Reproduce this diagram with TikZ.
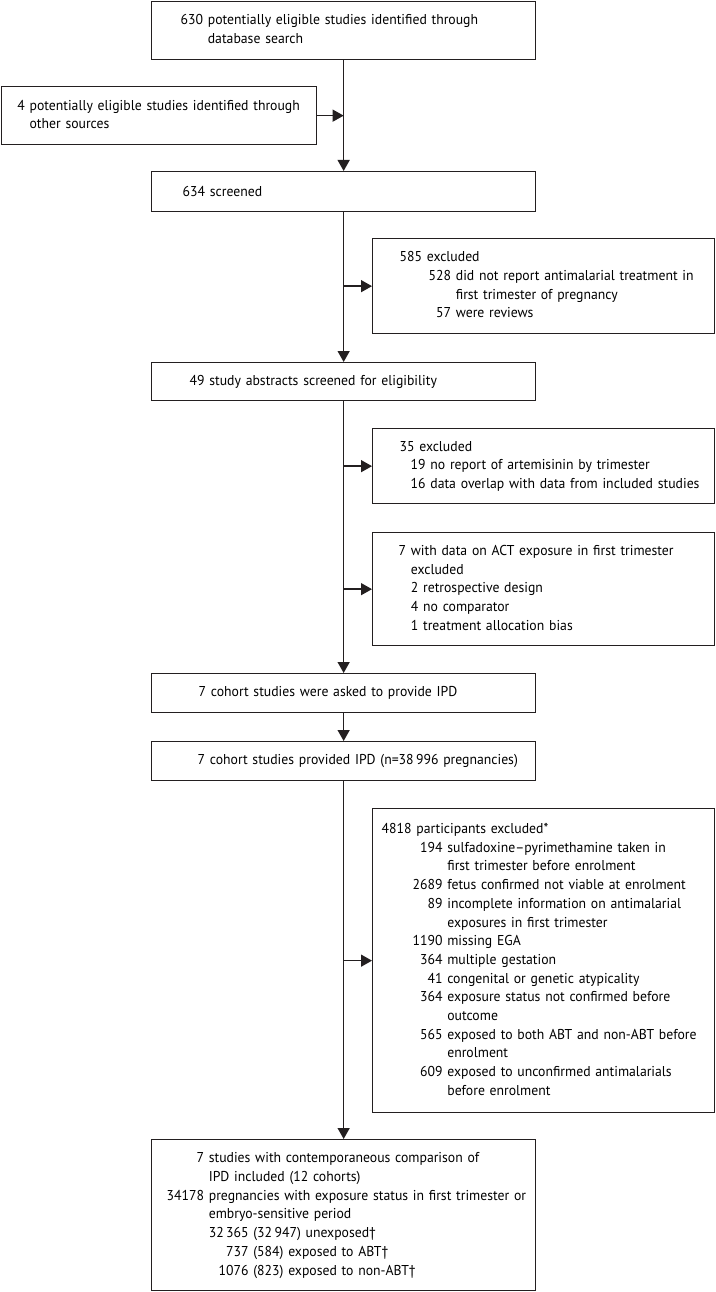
\documentclass[tikz,border=0pt]{standalone}
\usepackage{fontspec}
\setmainfont{PT Sans}[FakeStretch=0.96]
\usetikzlibrary{arrows.meta}

\definecolor{FlowInk}{RGB}{35,31,32}

\begin{document}
\begin{tikzpicture}[x=1pt,y=-1pt,
    flowbox/.style={draw=FlowInk,line width=1.3pt,anchor=north west,align=left,
      inner ysep=0pt,font=\fontsize{14.3}{18.7}\selectfont},
    arr/.style={FlowInk,line width=1.4pt,-{Triangle[length=11pt,width=12pt]}}]

  \useasboundingbox (0,0) rectangle (715,1292);

  % main column
  \node[flowbox,minimum width=384pt,minimum height=58pt,inner xsep=29pt,text width=326pt] (n630) at (151,0.7) {%
    \begin{tabular}{@{}r@{\ }l@{}}
      630 & potentially eligible studies identified through\\
          & database search
    \end{tabular}};
  \node[flowbox,minimum width=315pt,minimum height=58pt,inner xsep=16pt,text width=283pt] (nother) at (0.7,86) {%
    \begin{tabular}{@{}r@{\ }l@{}}
      4 & potentially eligible studies identified through\\
        & other sources
    \end{tabular}};
  \node[flowbox,minimum width=384pt,minimum height=40pt,inner xsep=31pt,text width=322pt] (nscr) at (151,171) {634 screened};
  \node[flowbox,minimum width=384pt,minimum height=38pt,inner xsep=38pt,text width=308pt] (nabs) at (151,362) {49 study abstracts screened for eligibility};
  \node[flowbox,minimum width=384pt,minimum height=39pt,inner xsep=47pt,text width=290pt] (nask) at (151,673) {7 cohort studies were asked to provide IPD};
  \node[flowbox,minimum width=384pt,minimum height=39pt,inner xsep=46pt,text width=292pt] (nipd) at (151,741) {\mbox{7 cohort studies provided IPD (n=38\,996 pregnancies)}};
  \node[flowbox,minimum width=384pt,minimum height=151pt,inner xsep=15pt,text width=354pt] (nfinal) at (151,1139) {%
    \begin{tabular}{@{}r@{\ }r@{\ }l@{}}
      7     & \multicolumn{2}{@{}l@{}}{studies with contemporaneous comparison of}\\
            & \multicolumn{2}{@{}l@{}}{IPD included (12 cohorts)}\\
      34178 & \multicolumn{2}{@{}l@{}}{pregnancies with exposure status in first trimester or}\\
            & \multicolumn{2}{@{}l@{}}{embryo-sensitive period}\\
            & 32\,365 & (32\,947) unexposed†\\
            & 737     & (584) exposed to ABT†\\
            & 1076    & (823) exposed to non-ABT†
    \end{tabular}};

  % exclusion boxes
  \node[flowbox,minimum width=342pt,minimum height=95pt,inner xsep=27pt,text width=288pt] (nexcl1) at (372,238) {%
    \begin{tabular}{@{}l@{}r@{\ }l@{}}
      \multicolumn{3}{@{}l@{}}{585 excluded}\\
      \hspace*{29pt} & 528 & did not report antimalarial treatment in\\
                     &     & first trimester of pregnancy\\
                     & 57  & were reviews
    \end{tabular}};
  \node[flowbox,minimum width=342pt,minimum height=75pt,inner xsep=27pt,text width=288pt] (nexcl2) at (372,428) {%
    \begin{tabular}{@{}l@{}l@{}}
      \multicolumn{2}{@{}l@{}}{35 excluded}\\
      \hspace*{11pt} & 19 no report of artemisinin by trimester\\
                     & 16 data overlap with data from included studies
    \end{tabular}};
  \node[flowbox,minimum width=342pt,minimum height=113pt,inner xsep=26pt,text width=290pt] (nexcl3) at (372,532) {%
    \begin{tabular}{@{}r@{\ }l@{}}
      7 & with data on ACT exposure in first trimester\\
        & excluded\\
        & 2 retrospective design\\
        & 4 no comparator\\
        & 1 treatment allocation bias
    \end{tabular}};
  \node[flowbox,minimum width=342pt,minimum height=304pt,inner xsep=9pt,text width=324pt] (nexcl4) at (372,808) {%
    \begin{tabular}{@{}l@{}r@{\ }l@{}}
      \multicolumn{3}{@{}l@{}}{4818 participants excluded*}\\
      \hspace*{31pt} & 194  & sulfadoxine–pyrimethamine taken in\\
                     &      & first trimester before enrolment\\
                     & 2689 & fetus confirmed not viable at enrolment\\
                     & 89   & incomplete information on antimalarial\\
                     &      & exposures in first trimester\\
                     & 1190 & missing EGA\\
                     & 364  & multiple gestation\\
                     & 41   & congenital or genetic atypicality\\
                     & 364  & exposure status not confirmed before\\
                     &      & outcome\\
                     & 565  & exposed to both ABT and non-ABT before\\
                     &      & enrolment\\
                     & 609  & exposed to unconfirmed antimalarials\\
                     &      & before enrolment
    \end{tabular}};

  % connectors
  \draw[arr] (n630) -- (nscr);
  \draw[arr] (nother.east) -- (nother.east -| n630.south);
  \draw[arr] (nscr) -- (nabs);
  \draw[arr] (nexcl1.west -| nscr.south) -- (nexcl1.west);
  \draw[arr] (nabs) -- (nask);
  \draw[arr] (nexcl2.west -| nabs.south) -- (nexcl2.west);
  \draw[arr] (nexcl3.west -| nabs.south) -- (nexcl3.west);
  \draw[arr] (nask) -- (nipd);
  \draw[arr] (nipd) -- (nfinal);
  \draw[arr] (nexcl4.west -| nipd.south) -- (nexcl4.west);

\end{tikzpicture}
\end{document}
